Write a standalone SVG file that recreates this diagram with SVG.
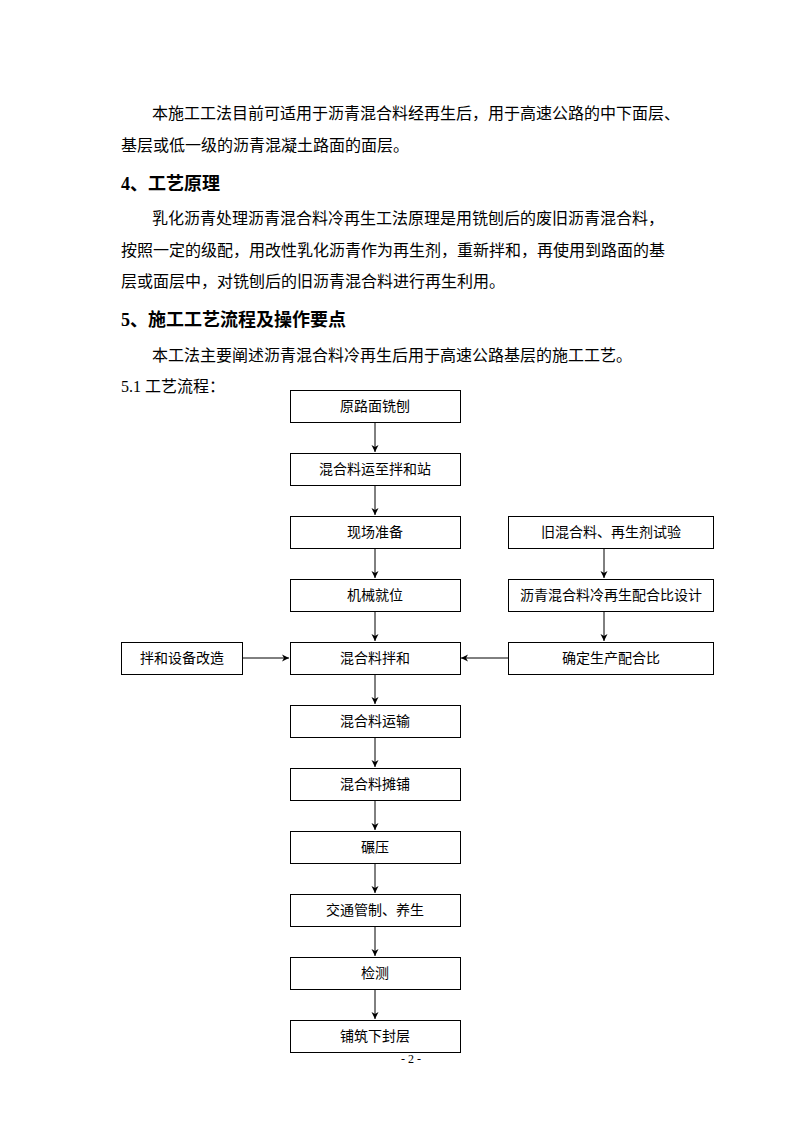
<svg xmlns="http://www.w3.org/2000/svg" width="800" height="1132" viewBox="0 0 800 1132">
<style>
.t{font-family:"Liberation Serif","Noto Sans CJK SC",serif;fill:#000}
.b{font-size:16px}
.h{font-size:18px;font-weight:bold}
.n{font-size:14px;text-anchor:middle}
.box{fill:#fff;stroke:#000;stroke-width:1}
.c{stroke:#000;stroke-width:1;fill:none}
</style>
<defs>
<marker id="ah" markerWidth="8" markerHeight="8" refX="7" refY="4" orient="auto" markerUnits="userSpaceOnUse">
<path d="M0,0.5 L7,4 L0,7.5 L2,4 Z" fill="#000"/>
</marker>
</defs>
<rect width="800" height="1132" fill="#fff"/>
<g id="text">
<text class="t b" x="152" y="119">本施工工法目前可适用于沥青混合料经再生后，用于高速公路的中下面层、</text>
<text class="t b" x="121" y="151">基层或低一级的沥青混凝土路面的面层。</text>
<text class="t h" x="121" y="190">4、工艺原理</text>
<text class="t b" x="152" y="224">乳化沥青处理沥青混合料冷再生工法原理是用铣刨后的废旧沥青混合料，</text>
<text class="t b" x="121" y="256">按照一定的级配，用改性乳化沥青作为再生剂，重新拌和，再使用到路面的基</text>
<text class="t b" x="121" y="287">层或面层中，对铣刨后的旧沥青混合料进行再生利用。</text>
<text class="t h" x="121" y="326">5、施工工艺流程及操作要点</text>
<text class="t b" x="152" y="361">本工法主要阐述沥青混合料冷再生后用于高速公路基层的施工工艺。</text>
<text class="t b" x="121" y="392">5.1 工艺流程：</text>
<text class="t" x="411" y="1063" font-size="12" text-anchor="middle">- 2 -</text>
</g>
<g id="connectors">
<line class="c" x1="375" y1="422" x2="375" y2="452" marker-end="url(#ah)"/>
<line class="c" x1="375" y1="485" x2="375" y2="515" marker-end="url(#ah)"/>
<line class="c" x1="375" y1="548" x2="375" y2="578" marker-end="url(#ah)"/>
<line class="c" x1="375" y1="611" x2="375" y2="641" marker-end="url(#ah)"/>
<line class="c" x1="375" y1="674" x2="375" y2="704" marker-end="url(#ah)"/>
<line class="c" x1="375" y1="737" x2="375" y2="767" marker-end="url(#ah)"/>
<line class="c" x1="375" y1="800" x2="375" y2="830" marker-end="url(#ah)"/>
<line class="c" x1="375" y1="863" x2="375" y2="893" marker-end="url(#ah)"/>
<line class="c" x1="375" y1="926" x2="375" y2="956" marker-end="url(#ah)"/>
<line class="c" x1="375" y1="989" x2="375" y2="1019" marker-end="url(#ah)"/>
<line class="c" x1="604" y1="548" x2="604" y2="578" marker-end="url(#ah)"/>
<line class="c" x1="604" y1="611" x2="604" y2="641" marker-end="url(#ah)"/>
<line class="c" x1="242" y1="658" x2="289" y2="658" marker-end="url(#ah)"/>
<line class="c" x1="508" y1="658" x2="461" y2="658" marker-end="url(#ah)"/>
</g>
<g id="n1"><rect class="box" x="290.5" y="390.5" width="170" height="32"/><text class="t n" x="375" y="411">原路面铣刨</text></g>
<g id="n2"><rect class="box" x="290.5" y="453.5" width="170" height="32"/><text class="t n" x="375" y="474">混合料运至拌和站</text></g>
<g id="n3"><rect class="box" x="290.5" y="516.5" width="170" height="32"/><text class="t n" x="375" y="537">现场准备</text></g>
<g id="n4"><rect class="box" x="290.5" y="579.5" width="170" height="32"/><text class="t n" x="375" y="600">机械就位</text></g>
<g id="n5"><rect class="box" x="290.5" y="642.5" width="170" height="32"/><text class="t n" x="375" y="663">混合料拌和</text></g>
<g id="n6"><rect class="box" x="290.5" y="705.5" width="170" height="32"/><text class="t n" x="375" y="726">混合料运输</text></g>
<g id="n7"><rect class="box" x="290.5" y="768.5" width="170" height="32"/><text class="t n" x="375" y="789">混合料摊铺</text></g>
<g id="n8"><rect class="box" x="290.5" y="831.5" width="170" height="32"/><text class="t n" x="375" y="852">碾压</text></g>
<g id="n9"><rect class="box" x="290.5" y="894.5" width="170" height="32"/><text class="t n" x="375" y="915">交通管制、养生</text></g>
<g id="n10"><rect class="box" x="290.5" y="957.5" width="170" height="32"/><text class="t n" x="375" y="978">检测</text></g>
<g id="n11"><rect class="box" x="290.5" y="1020.5" width="170" height="32"/><text class="t n" x="375" y="1041">铺筑下封层</text></g>
<g id="n12"><rect class="box" x="121.5" y="642.5" width="121" height="32"/><text class="t n" x="182" y="663">拌和设备改造</text></g>
<g id="n13"><rect class="box" x="508.5" y="516.5" width="205" height="32"/><text class="t n" x="611" y="537">旧混合料、再生剂试验</text></g>
<g id="n14"><rect class="box" x="508.5" y="579.5" width="205" height="32"/><text class="t n" x="611" y="600">沥青混合料冷再生配合比设计</text></g>
<g id="n15"><rect class="box" x="508.5" y="642.5" width="205" height="32"/><text class="t n" x="611" y="663">确定生产配合比</text></g>
</svg>
